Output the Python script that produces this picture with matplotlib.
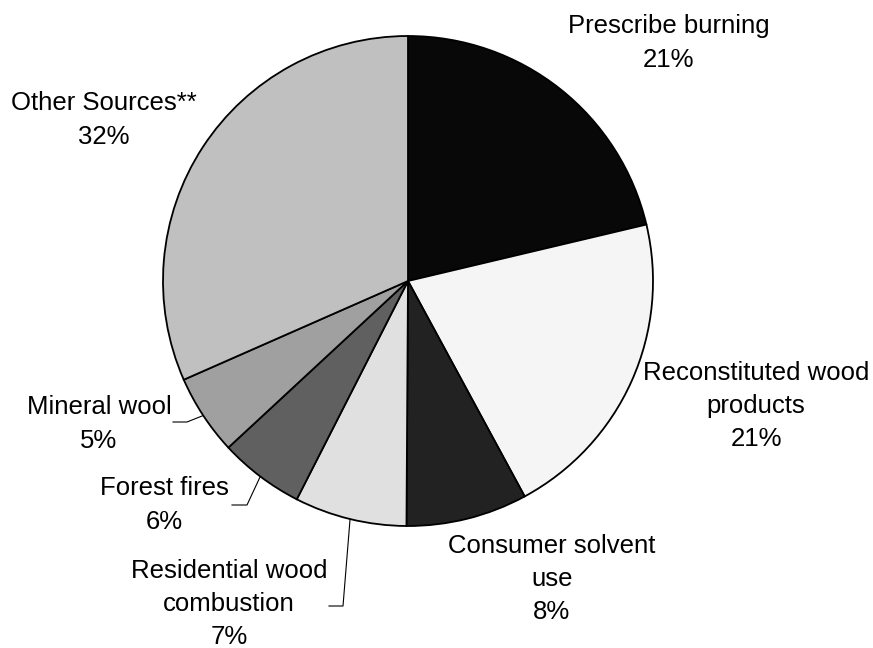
import numpy as np
import matplotlib
matplotlib.use("Agg")
import matplotlib.pyplot as plt

# pie data (clockwise from 12 o'clock)
sources = ["Prescribe burning", "Reconstituted wood\nproducts", "Consumer solvent\nuse",
           "Residential wood\ncombustion", "Forest fires", "Mineral wool", "Other Sources**"]
shares = [21.3, 20.8, 8.0, 7.4, 5.6, 5.3, 31.6]
colors = ["#080808", "#f5f5f5", "#222222", "#e0e0e0", "#606060", "#a0a0a0", "#c0c0c0"]

W, H = 873, 648
plt.rcParams['font.family'] = ['Liberation Sans', 'DejaVu Sans']

fig = plt.figure(figsize=(W / 100, H / 100), dpi=100)
ax = fig.add_axes([0, 0, 1, 1])

cx, cy, r = 408, H - 281, 245

wedges, _ = ax.pie(shares, colors=colors, startangle=90, counterclock=False,
                   center=(cx, cy), radius=r, frame=True,
                   wedgeprops=dict(edgecolor="black", linewidth=1.3))
ax.set_xlim(0, W)
ax.set_ylim(0, H)
ax.set_aspect("equal")
ax.axis("off")

# label centres in pixels (x, y from top)
label_pos = [(669, 43), (756, 406), (552, 579), (229, 604), (164, 505), (99, 424), (104, 120)]
# leader lines: elbow point and end point (pixels from top), None = no leader
leaders = [None, None, None, ((343, 606), (329, 606)), ((247, 505), (232, 505)),
           ((187, 422), (173, 422)), None]

for w, name, v, (lx, ly), ld in zip(wedges, sources, shares, label_pos, leaders):
    ax.text(lx, H - ly, f"{name}\n{v:.0f}%", ha="center", va="center",
            fontsize=18.5, linespacing=1.48, color="black")
    if ld is not None:
        mid = np.deg2rad((w.theta1 + w.theta2) / 2)
        sx, sy = cx + r * np.cos(mid), cy + r * np.sin(mid)
        (ex, ey), (fx, fy) = ld
        ax.plot([sx, ex, fx], [sy, H - ey, H - fy], color="black", lw=0.8)

fig.savefig("out.png", dpi=100, facecolor="white")
